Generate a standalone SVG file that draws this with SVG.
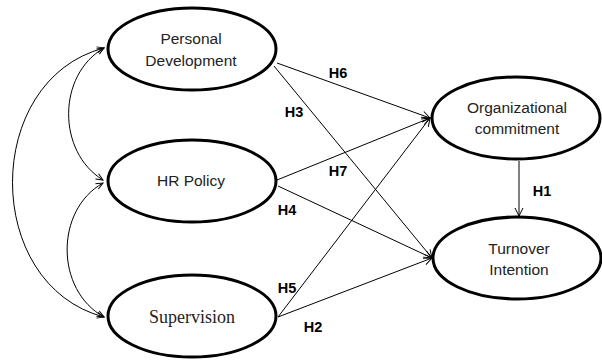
<svg xmlns="http://www.w3.org/2000/svg" width="602" height="360" viewBox="0 0 602 360">
<defs>
<marker id="arr" markerUnits="userSpaceOnUse" markerWidth="12" markerHeight="12" viewBox="-10 -5 12 10" refX="0" refY="0" orient="auto-start-reverse">
<path d="M-8,-4 L0,0 L-8,4" fill="none" stroke="#000" stroke-width="1"/>
</marker>
<marker id="arr2" markerUnits="userSpaceOnUse" markerWidth="10" markerHeight="10" viewBox="-8 -4 10 8" refX="0" refY="0" orient="auto-start-reverse">
<path d="M-7,-3 L0,0 L-7,3" fill="none" stroke="#000" stroke-width="1"/>
</marker>
</defs>
<style>
.node ellipse{fill:#fff;stroke:#000;stroke-width:3}
.t{font-family:"Liberation Sans",Arial,sans-serif;font-size:15.5px;fill:#222;text-anchor:middle}
.s{font-family:"Liberation Serif","Times New Roman",serif;font-size:18px;fill:#222;text-anchor:middle}
.lbl{font-family:"Liberation Sans",Arial,sans-serif;font-size:14.5px;font-weight:bold;fill:#000;text-anchor:middle}
.c line,.c path{stroke:#000;stroke-width:1;fill:none;marker-end:url(#arr)}
.c .bi{marker-start:url(#arr2);marker-end:url(#arr2)}
</style>
<g class="c" id="connectors">
<path class="bi" d="M104,48 C-18,80 -18,285 104,317"/>
<path class="bi" d="M104,48 C57,75 57,152 103,180"/>
<path class="bi" d="M103,183 C55,210 55,290 104,317"/>
<line x1="277" y1="63" x2="430" y2="118"/>
<line x1="274" y1="66" x2="432" y2="258"/>
<line x1="277" y1="180" x2="430" y2="118"/>
<line x1="278" y1="186" x2="432" y2="258"/>
<line x1="278" y1="317" x2="430" y2="118"/>
<line x1="278" y1="317" x2="432" y2="258"/>
<line x1="519" y1="161" x2="519" y2="216"/>
</g>
<g class="node" id="pd"><ellipse cx="192" cy="49" rx="84" ry="41"/><text class="t" x="191" y="44">Personal</text><text class="t" x="191" y="66">Development</text></g>
<g class="node" id="hr"><ellipse cx="192" cy="181" rx="84" ry="41"/><text class="t" x="191" y="186">HR Policy</text></g>
<g class="node" id="sup"><ellipse cx="192" cy="316" rx="84" ry="41"/><text class="s" x="192" y="323">Supervision</text></g>
<g class="node" id="oc"><ellipse cx="516" cy="118" rx="84" ry="41"/><text class="t" x="517" y="113">Organizational</text><text class="t" x="517" y="134">commitment</text></g>
<g class="node" id="ti"><ellipse cx="517" cy="258" rx="84" ry="41"/><text class="t" x="519" y="254">Turnover</text><text class="t" x="519" y="275">Intention</text></g>
<g id="labels">
<text class="lbl" x="338" y="78">H6</text>
<text class="lbl" x="294" y="117">H3</text>
<text class="lbl" x="338" y="176">H7</text>
<text class="lbl" x="542" y="196">H1</text>
<text class="lbl" x="287" y="215">H4</text>
<text class="lbl" x="287" y="293">H5</text>
<text class="lbl" x="313" y="332">H2</text>
</g>
</svg>
